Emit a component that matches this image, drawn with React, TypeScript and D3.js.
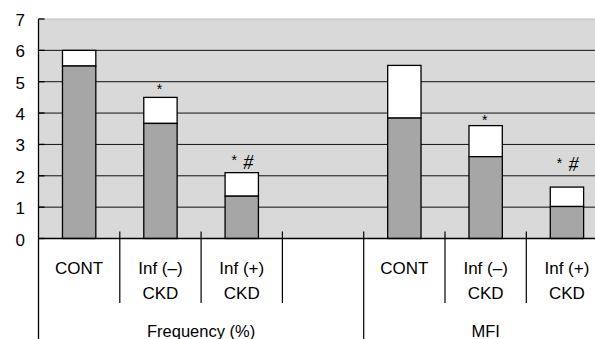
import React from 'react'
import * as d3 from 'd3'

// Data
const slots = ['f0', 'f1', 'f2', 'gap', 'm0', 'm1', 'm2']
const barSlots = ['f0', 'f1', 'f2', 'm0', 'm1', 'm2']
const lowerValues = [5.5, 3.67, 1.35, 3.84, 2.61, 1.02]
const totalValues = [6.0, 4.5, 2.1, 5.52, 3.6, 1.64]
const marks = ['', '*', '* #', '', '*', '* #']
// level (in axis units) where each significance mark sits
const markLevels = [0, 4.61, 2.34, 0, 3.62, 2.25]
const catLine1 = ['CONT', 'Inf (–)', 'Inf (+)', '', 'CONT', 'Inf (–)', 'Inf (+)']
const catLine2 = ['', 'CKD', 'CKD', '', '', 'CKD', 'CKD']
const groups = [
    { name: 'Frequency (%)', from: 'f0', to: 'gap' },
    { name: 'MFI', from: 'm0', to: 'm2' }
]
const yTicks = [0, 1, 2, 3, 4, 5, 6, 7]

const width = 595
const height = 339
const left = 38.5
const top = 19
const bottom = 238.5
const slotW = 81.3

export default function App() {
    const x = d3.scaleBand<string>()
        .domain(slots)
        .range([left, left + slotW * slots.length])
        .paddingInner(0)
        .paddingOuter(0)
    const y = d3.scaleLinear().domain([0, 7]).range([bottom, top])
    const bw = x.bandwidth()
    const barW = bw * 0.41
    const font = 'Liberation Sans, Arial, sans-serif'

    return (
        <svg width={width} height={height}
            style={{ position: 'absolute', left: 0, top: 0, background: '#fff' }}>
            {/* plot background */}
            <rect x={left} y={top} width={x.range()[1] - left} height={bottom - top} fill="#d9d9d9" />
            <line x1={left} x2={width} y1={top} y2={top} stroke="#bdbdbd" strokeWidth={1} />

            {/* gridlines */}
            {yTicks.filter(t => t > 0 && t < 7).map(t => (
                <line key={'g' + t} x1={left} x2={width} y1={y(t)} y2={y(t)} stroke="#111" strokeWidth={1} />
            ))}

            {/* y ticks + labels */}
            {yTicks.map(t => (
                <g key={'y' + t}>
                    <line x1={left} x2={left + 6} y1={y(t)} y2={y(t)} stroke="#000" strokeWidth={1.3} />
                    <text x={25} y={y(t) + 7} textAnchor="end"
                        fontFamily={font} fontSize={17} fill="#000">{t}</text>
                </g>
            ))}

            {/* bars */}
            {barSlots.map((s, i) => {
                const cx = (x(s) as number) + bw / 2
                const my = y(markLevels[i])
                return (
                    <g key={'b' + s}>
                        <rect x={cx - barW / 2} y={y(totalValues[i])} width={barW}
                            height={y(lowerValues[i]) - y(totalValues[i])}
                            fill="#fff" stroke="#000" strokeWidth={1.3} />
                        <rect x={cx - barW / 2} y={y(lowerValues[i])} width={barW}
                            height={bottom - y(lowerValues[i])}
                            fill="#a6a6a6" stroke="#000" strokeWidth={1.3} />
                        {marks[i] === '*' && (
                            <text x={cx - 1} y={my} textAnchor="middle"
                                fontFamily={font} fontSize={14} fill="#000">*</text>
                        )}
                        {marks[i] === '* #' && (
                            <g>
                                <text x={cx - 7.5} y={my} textAnchor="middle"
                                    fontFamily={font} fontSize={14} fill="#000">*</text>
                                <text x={cx + 6.5} y={my + 3.5} textAnchor="middle"
                                    fontFamily="Liberation Serif, serif" fontStyle="italic"
                                    fontSize={20} fill="#000">#</text>
                            </g>
                        )}
                    </g>
                )
            })}

            {/* axes */}
            <line x1={left} x2={width} y1={bottom} y2={bottom} stroke="#000" strokeWidth={1.3} />
            <line x1={left} x2={left} y1={top} y2={height} stroke="#000" strokeWidth={1.3} />

            {/* category ticks */}
            {slots.slice(1).map(s => (
                <line key={'t' + s} x1={x(s) as number} x2={x(s) as number}
                    y1={bottom - 7} y2={s === 'm0' ? height : 303}
                    stroke="#000" strokeWidth={1.2} />
            ))}

            {/* category labels */}
            {slots.map((s, i) => {
                const cx = (x(s) as number) + bw / 2
                return (
                    <g key={'c' + s}>
                        <text x={cx} y={274} textAnchor="middle" fontFamily={font}
                            fontSize={17} fill="#000">{catLine1[i]}</text>
                        <text x={cx} y={299} textAnchor="middle" fontFamily={font}
                            fontSize={17} fill="#000">{catLine2[i]}</text>
                    </g>
                )
            })}

            {/* group labels */}
            {groups.map(g => {
                const x0 = x(g.from) as number
                const x1 = (x(g.to) as number) + bw
                return (
                    <text key={g.name} x={(x0 + x1) / 2} y={336.5} textAnchor="middle"
                        fontFamily={font} fontSize={16.5} fill="#000">{g.name}</text>
                )
            })}
        </svg>
    )
}
